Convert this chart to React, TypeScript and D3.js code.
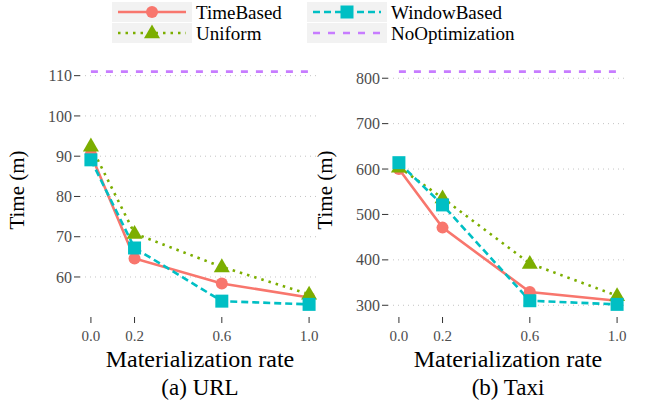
import React from "react"
import { scaleLinear, line, extent } from "d3"

// materialization rates on the x axis
const rates = [0.0, 0.2, 0.6, 1.0]
const xTicks = [0.0, 0.2, 0.6, 1.0]

// URL dataset, time in minutes
const urlTimeBased = [90.5, 64.6, 58.4, 54.9]
const urlUniform = [92.5, 70.8, 62.5, 55.7]
const urlWindowBased = [89.1, 67.2, 54.0, 53.2]
const urlNoOpt = [111, 111, 111, 111]
const urlTicks = [60, 70, 80, 90, 100, 110]

// Taxi dataset, time in minutes
const taxiTimeBased = [600, 471, 329, 310]
const taxiUniform = [604, 536, 392, 321]
const taxiWindowBased = [614, 521, 310, 302]
const taxiNoOpt = [814.5, 814.5, 814.5, 814.5]
const taxiTicks = [300, 400, 500, 600, 700, 800]

const seriesNames = ["TimeBased", "Uniform", "WindowBased", "NoOptimization"]
const colors = ["#F8766D", "#7CAE00", "#00BFC4", "#C77CFF"]
const dashes = ["none", "2.5,5", "7,4", "7,8"]
const shapes = ["circle", "triangle", "square", "none"]

const font = "Liberation Serif, serif"

function Marker({ shape, x, y, color }) {
  if (shape === "circle") return <circle cx={x} cy={y} r={6} fill={color} />
  if (shape === "square")
    return <rect x={x - 6.5} y={y - 6.5} width={13} height={13} fill={color} />
  if (shape === "triangle") {
    const s = 16
    const h = s * 0.866
    return (
      <polygon
        points={`${x},${y - h * 0.62} ${x - s / 2},${y + h * 0.38} ${x + s / 2},${y + h * 0.38}`}
        fill={color}
      />
    )
  }
  return null
}

function Panel({ left, right, top, bottom, series, ticks, title }) {
  const x = scaleLinear().domain([-0.05, 1.05]).range([left, right])
  const all = [].concat(...series)
  const [lo, hi] = extent(all)
  const pad = (hi - lo) * 0.05
  const y = scaleLinear().domain([lo - pad, hi + pad]).range([bottom, top])
  const path = line()
    .x((d, i) => x(rates[i]))
    .y(d => y(d))

  return (
    <g style={{ fontFamily: font }}>
      {ticks.map(t => (
        <g key={t}>
          <line x1={left} x2={right} y1={y(t)} y2={y(t)} stroke="#c4c4c4" strokeWidth={1} strokeDasharray="1,4" />
          <line x1={left - 6} x2={left} y1={y(t)} y2={y(t)} stroke="#333" strokeWidth={1} />
          <text x={left - 8} y={y(t)} dy="0.35em" textAnchor="end" fontSize={16} fill="#4d4d4d">
            {t}
          </text>
        </g>
      ))}
      {xTicks.map(t => (
        <g key={t}>
          <line x1={x(t)} x2={x(t)} y1={bottom + 1} y2={bottom + 7} stroke="#333" strokeWidth={1} />
          <text x={x(t)} y={341} textAnchor="middle" fontSize={15} fill="#4d4d4d">
            {t.toFixed(1)}
          </text>
        </g>
      ))}
      {series.map((s, i) => (
        <path key={i} d={path(s)} fill="none" stroke={colors[i]} strokeWidth={2.6} strokeDasharray={dashes[i]} />
      ))}
      {series.map((s, i) =>
        s.map((v, j) => <Marker key={i + "-" + j} shape={shapes[i]} x={x(rates[j])} y={y(v)} color={colors[i]} />)
      )}
      <text
        transform={`translate(${left - 56},${(top + bottom) / 2 + 2}) rotate(-90)`}
        textAnchor="middle"
        fontSize={21}
        fill="#000"
      >
        Time (m)
      </text>
      <text x={(left + right) / 2} y={367} textAnchor="middle" fontSize={24}>
        Materialization rate
      </text>
      <text x={(left + right) / 2} y={395} textAnchor="middle" fontSize={23}>
        {title}
      </text>
    </g>
  )
}

function Legend() {
  const cols = [112, 307]
  const rows = [2, 23]
  return (
    <g style={{ fontFamily: font }}>
      {seriesNames.map((name, i) => {
        const kx = cols[Math.floor(i / 2)]
        const ky = rows[i % 2]
        const cy = ky + 10
        return (
          <g key={name}>
            <rect x={kx} y={ky} width={80} height={20} fill="#f2f2f2" />
            <line x1={kx + 6} x2={kx + 74} y1={cy} y2={cy} stroke={colors[i]} strokeWidth={2.6} strokeDasharray={dashes[i]} />
            <Marker shape={shapes[i]} x={kx + 40} y={cy} color={colors[i]} />
            <text x={kx + 84} y={cy} dy="0.35em" fontSize={19}>
              {name}
            </text>
          </g>
        )
      })}
    </g>
  )
}

export default function App() {
  return (
    <svg width={651} height={407} style={{ position: "absolute", left: 0, top: 0, background: "#fff" }}>
      <Legend />
      <Panel
        left={80}
        right={320}
        top={60}
        bottom={316}
        series={[urlTimeBased, urlUniform, urlWindowBased, urlNoOpt]}
        ticks={urlTicks}
        title="(a) URL"
      />
      <Panel
        left={388}
        right={628}
        top={60}
        bottom={316}
        series={[taxiTimeBased, taxiUniform, taxiWindowBased, taxiNoOpt]}
        ticks={taxiTicks}
        title="(b) Taxi"
      />
    </svg>
  )
}
